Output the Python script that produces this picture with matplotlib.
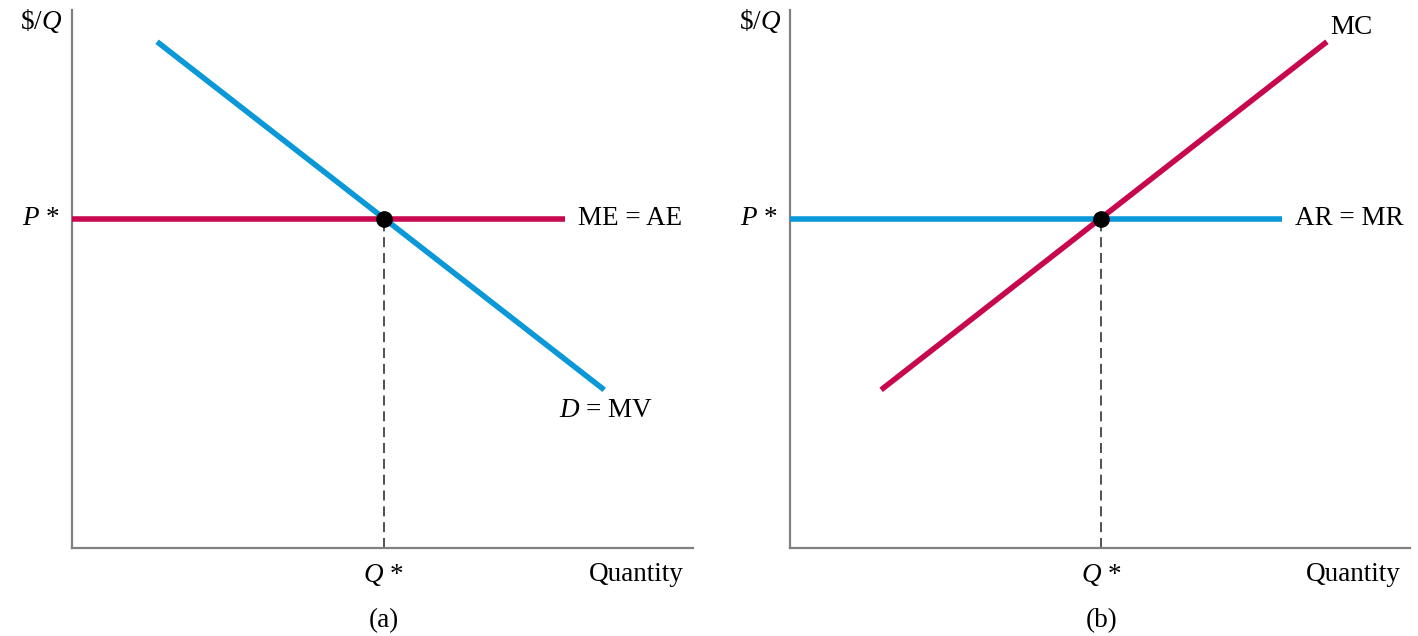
import matplotlib
matplotlib.use("Agg")
from matplotlib import pyplot as plt

# panel (a): demand = MV and flat ME = AE
d_x = [1.37, 8.57]
d_y = [9.41, 2.94]
me_x = [0.0, 7.94]
me_y = [6.12, 6.12]
q_star_a = 5.02
p_star_a = 6.12

# panel (b): rising MC and flat AR = MR
mc_x = [1.47, 8.66]
mc_y = [2.94, 9.41]
ar_x = [0.0, 7.94]
ar_y = [6.12, 6.12]
q_star_b = 5.02
p_star_b = 6.12

BLUE = "#0a98d8"
RED = "#c8084e"
GRAY = "#808080"
FONT = "Liberation Serif"
FS = 19.5

plt.rcParams['font.family'] = [FONT, 'DejaVu Serif']
plt.rcParams['mathtext.fontset'] = 'custom'
plt.rcParams['mathtext.it'] = FONT + ':italic'
plt.rcParams['mathtext.rm'] = FONT

fig = plt.figure(figsize=(14.18, 6.36), dpi=100)
ax1 = fig.add_axes([72 / 1418, 88 / 636, 621 / 1418, 538 / 636])
ax2 = fig.add_axes([790 / 1418, 88 / 636, 620 / 1418, 538 / 636])


def setup(ax):
    ax.set_xlim(0, 10)
    ax.set_ylim(0, 10)
    for s in ['top', 'right']:
        ax.spines[s].set_visible(False)
    for s in ['left', 'bottom']:
        ax.spines[s].set_color(GRAY)
        ax.spines[s].set_linewidth(1.6)
    ax.set_xticks([])
    ax.set_yticks([])
    ax.patch.set_alpha(0)


def common(ax, q, p, sub):
    ax.plot([q, q], [0, p], color="#333333", lw=1.2, ls=(0, (6, 3.5)), zorder=2)
    ax.plot([q], [p], 'o', color='black', ms=11, zorder=5, clip_on=False)
    ax.text(-0.2, p, r"$P$ *", ha='right', va='center', fontsize=FS)
    ax.text(-0.15, 9.8, r"\$/$Q$", ha='right', va='center', fontsize=FS)
    ax.text(q, -0.5, r"$Q$ *", ha='center', va='center', fontsize=FS)
    ax.text(9.85, -0.5, "Quantity", ha='right', va='center', fontsize=FS)
    ax.text(q, -1.35, sub, ha='center', va='center', fontsize=FS)


setup(ax1)
ax1.plot(me_x, me_y, color=RED, lw=4.0, solid_capstyle='butt', zorder=3,
         clip_on=False)
ax1.plot(d_x, d_y, color=BLUE, lw=4.0, solid_capstyle='butt', zorder=3)
common(ax1, q_star_a, p_star_a, "(a)")
ax1.text(8.15, me_y[0], "ME = AE", ha='left', va='center', fontsize=FS)
ax1.text(7.85, 2.55, r"$D$ = MV", ha='left', va='center', fontsize=FS)

setup(ax2)
ax2.plot(ar_x, ar_y, color=BLUE, lw=4.0, solid_capstyle='butt', zorder=3,
         clip_on=False)
ax2.plot(mc_x, mc_y, color=RED, lw=4.0, solid_capstyle='butt', zorder=4)
common(ax2, q_star_b, p_star_b, "(b)")
ax2.text(8.15, ar_y[0], "AR = MR", ha='left', va='center', fontsize=FS)
ax2.text(8.72, 9.67, "MC", ha='left', va='center', fontsize=FS)

fig.savefig("out.png", dpi=100)
